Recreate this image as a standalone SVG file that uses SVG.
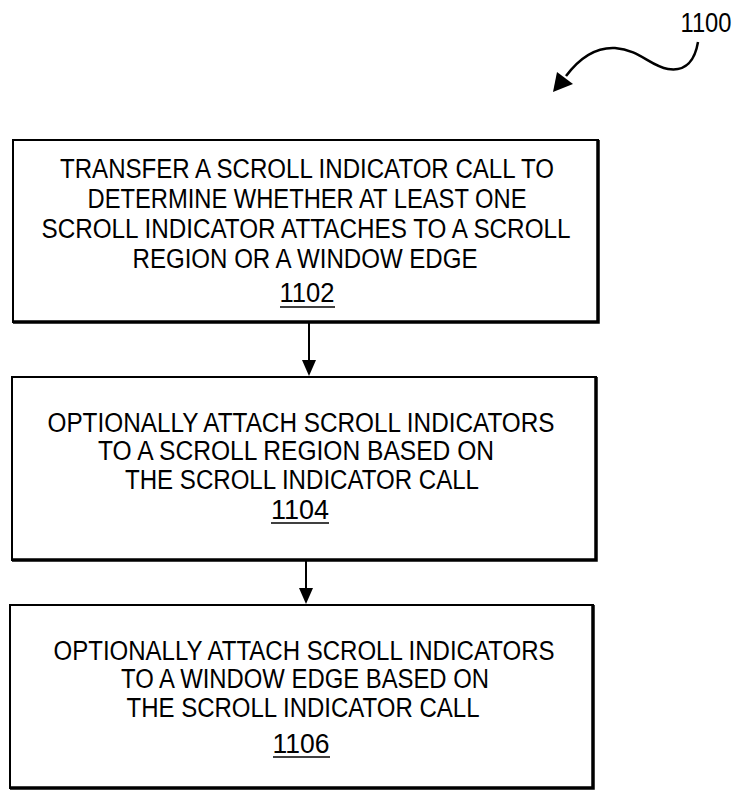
<svg xmlns="http://www.w3.org/2000/svg" width="739" height="794" viewBox="0 0 739 794">
<style>
.box{fill:#fff;stroke:#000;stroke-width:2}
.sh{fill:none;stroke:#000;stroke-width:3.5}
.t{font-family:"Liberation Sans",Arial,sans-serif;font-size:27px;fill:#000;text-anchor:middle}
.u{stroke:#000;stroke-width:1.5}
.c{fill:none;stroke:#000;stroke-width:2}
</style>
<g id="label1100">
<text x="706" y="32" class="t" textLength="51" lengthAdjust="spacingAndGlyphs">1100</text>
<path d="M698,42 C695,60 686,72 668,69 C650,66 640,50 615,48 C595,47 578,60 566,76" fill="none" stroke="#000" stroke-width="2.5"/>
<polygon points="553,92 557,72 573,84" fill="#000"/>
</g>
<g id="connectors">
<line x1="309" y1="323" x2="309" y2="361" class="c"/>
<polygon points="302,360 316,360 309,376" fill="#000"/>
<line x1="306" y1="560" x2="306" y2="589" class="c"/>
<polygon points="299,588 313,588 306,604" fill="#000"/>
</g>
<g id="n1102">
<rect x="13" y="140" width="585" height="182" class="box"/>
<path d="M13,322 H598 V140" class="sh"/>
<text x="307" y="178" class="t" textLength="494" lengthAdjust="spacingAndGlyphs">TRANSFER A SCROLL INDICATOR CALL TO</text>
<text x="307" y="208" class="t" textLength="439" lengthAdjust="spacingAndGlyphs">DETERMINE WHETHER AT LEAST ONE</text>
<text x="306" y="238" class="t" textLength="529" lengthAdjust="spacingAndGlyphs">SCROLL INDICATOR ATTACHES TO A SCROLL</text>
<text x="305" y="268" class="t" textLength="345" lengthAdjust="spacingAndGlyphs">REGION OR A WINDOW EDGE</text>
<text x="307" y="302" class="t" textLength="55" lengthAdjust="spacingAndGlyphs">1102</text>
<line x1="280" y1="307" x2="335" y2="307" class="u"/>
</g>
<g id="n1104">
<rect x="12" y="377" width="584" height="183" class="box"/>
<path d="M12,560 H596 V377" class="sh"/>
<text x="301" y="432" class="t" textLength="507" lengthAdjust="spacingAndGlyphs">OPTIONALLY ATTACH SCROLL INDICATORS</text>
<text x="296" y="460" class="t" textLength="396" lengthAdjust="spacingAndGlyphs">TO A SCROLL REGION BASED ON</text>
<text x="302" y="489" class="t" textLength="354" lengthAdjust="spacingAndGlyphs">THE SCROLL INDICATOR CALL</text>
<text x="300" y="519" class="t" textLength="58" lengthAdjust="spacingAndGlyphs">1104</text>
<line x1="271" y1="523" x2="329" y2="523" class="u"/>
</g>
<g id="n1106">
<rect x="10" y="605" width="583" height="183" class="box"/>
<path d="M10,788 H593 V605" class="sh"/>
<text x="304" y="660" class="t" textLength="501" lengthAdjust="spacingAndGlyphs">OPTIONALLY ATTACH SCROLL INDICATORS</text>
<text x="305" y="688" class="t" textLength="368" lengthAdjust="spacingAndGlyphs">TO A WINDOW EDGE BASED ON</text>
<text x="303" y="717" class="t" textLength="353" lengthAdjust="spacingAndGlyphs">THE SCROLL INDICATOR CALL</text>
<text x="301" y="753" class="t" textLength="57" lengthAdjust="spacingAndGlyphs">1106</text>
<line x1="273" y1="757" x2="330" y2="757" class="u"/>
</g>
</svg>
